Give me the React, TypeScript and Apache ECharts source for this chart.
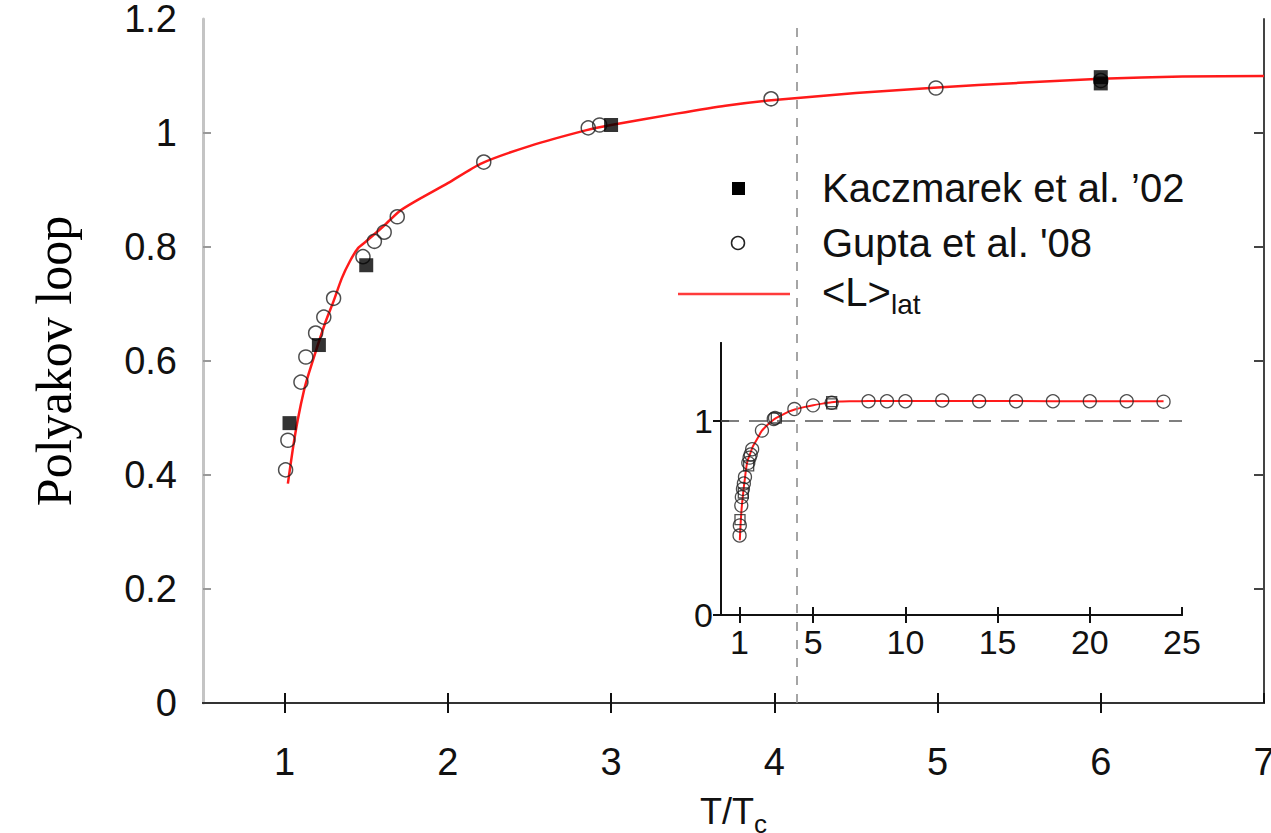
import React, { useEffect, useRef } from "react";
import * as echarts from "echarts";

// Kaczmarek et al. '02 (filled squares)
const kaczX = [1.03, 1.21, 1.5, 3.0, 6.0, 6.0];
const kaczY = [0.491, 0.628, 0.768, 1.014, 1.087, 1.098];

// Gupta et al. '08 (open circles), range shown in the main panel
const guptaX = [1.006, 1.02, 1.1, 1.13, 1.19, 1.24, 1.3, 1.48, 1.55, 1.61, 1.69, 2.22, 2.86, 2.93, 3.98, 4.99, 6.0];
const guptaY = [0.409, 0.461, 0.563, 0.607, 0.649, 0.677, 0.71, 0.783, 0.81, 0.826, 0.853, 0.949, 1.009, 1.014, 1.06, 1.079, 1.092];

// Gupta et al. '08, high-temperature points (inset only)
const guptaHighX = [8, 9, 10, 12, 14, 16, 18, 20, 22, 24];
const guptaHighY = [1.1, 1.1, 1.1, 1.104, 1.1, 1.1, 1.1, 1.1, 1.1, 1.098];

// <L>_lat curve
const curveX = [1.02, 1.05, 1.08, 1.12, 1.15, 1.2, 1.25, 1.3, 1.35, 1.4, 1.45, 1.5, 1.6, 1.7, 1.8, 2.0, 2.2, 2.5, 2.85, 3.0, 3.4, 3.7, 4.0, 4.5, 5.0, 5.5, 6.0, 6.5, 7.0];
const curveY = [0.385, 0.445, 0.496, 0.55, 0.58, 0.625, 0.668, 0.705, 0.745, 0.775, 0.798, 0.81, 0.835, 0.862, 0.88, 0.912, 0.946, 0.977, 1.005, 1.014, 1.034, 1.048, 1.058, 1.07, 1.08, 1.088, 1.095, 1.099, 1.1];
const curveTailX = [8, 10, 12, 16, 20, 24];
const curveTailY = [1.101, 1.102, 1.102, 1.101, 1.1, 1.1];

const mainXTicks = [1, 2, 3, 4, 5, 6, 7];
const mainYTicks = [0, 0.2, 0.4, 0.6, 0.8, 1, 1.2];
const insetXTicks = [1, 5, 10, 15, 20, 25];
const insetYTicks = [0, 1];
const tcLineX = 4.14;
const insetRefY = 1;

const zip = (xs: number[], ys: number[]) => xs.map((x, i) => [x, ys[i]]);

export default function App() {
  const ref = useRef<HTMLDivElement>(null);
  useEffect(() => {
    document.body.style.margin = "0";
    const chart = echarts.init(ref.current!, null, { renderer: "svg" });
    const sans = "Liberation Sans";
    const blank = { show: false };
    const option: any = {
      animation: false,
      backgroundColor: "#fff",
      grid: [
        { left: 203, top: 19, width: 1061, height: 684, outerBoundsMode: "none", containLabel: false },
        { left: 721, top: 343, width: 461, height: 272, outerBoundsMode: "none", containLabel: false },
      ],
      xAxis: [
        {
          gridIndex: 0, type: "value", min: 0.5, max: 7, position: "bottom",
          axisLine: { lineStyle: { color: "#111", width: 2 } },
          axisTick: { inside: true, length: 10, customValues: mainXTicks, lineStyle: { color: "#111", width: 2 } },
          axisLabel: { customValues: mainXTicks, fontFamily: sans, fontSize: 38, color: "#111", margin: 40 },
          splitLine: blank,
          name: "{a|T/T}{b|c}", nameLocation: "middle", nameGap: 82,
          nameTextStyle: {
            rich: {
              a: { fontFamily: sans, fontSize: 36, color: "#111" },
              b: { fontFamily: sans, fontSize: 26, color: "#111", padding: [26, 0, 0, 0] },
            },
          },
        },
        {
          gridIndex: 0, type: "value", min: 0.5, max: 7, position: "top",
          axisLine: { lineStyle: { color: "#333", width: 2 } },
          axisTick: { inside: true, length: 10, customValues: mainXTicks.slice(0, 6), lineStyle: { color: "#111", width: 2 } },
          axisLabel: blank, splitLine: blank,
        },
        {
          gridIndex: 1, type: "value", min: 0, max: 25, position: "bottom",
          axisLine: { lineStyle: { color: "#111", width: 2 } },
          axisTick: { inside: true, length: 8, customValues: insetXTicks, lineStyle: { color: "#111", width: 2 } },
          axisLabel: { customValues: insetXTicks, fontFamily: sans, fontSize: 34, color: "#111", margin: 10 },
          splitLine: blank,
        },
        {
          gridIndex: 1, type: "value", min: 0, max: 25, position: "top",
          axisLine: { lineStyle: { color: "#111", width: 2 } },
          axisTick: { inside: true, length: 8, customValues: insetXTicks.slice(0, 5), lineStyle: { color: "#111", width: 2 } },
          axisLabel: blank, splitLine: blank,
        },
      ],
      yAxis: [
        {
          gridIndex: 0, type: "value", min: 0, max: 1.2, position: "left",
          axisLine: { show: true, lineStyle: { color: "#c4c4c4", width: 3 } },
          axisTick: { show: true, inside: true, length: 8, customValues: [0.2, 0.4, 0.6, 0.8, 1.0], lineStyle: { color: "#999", width: 2 } },
          axisLabel: { customValues: mainYTicks, fontFamily: sans, fontSize: 38, color: "#111", margin: 26 },
          splitLine: blank,
          name: "Polyakov loop", nameLocation: "middle", nameGap: 124,
          nameTextStyle: { fontFamily: "Liberation Serif", fontSize: 50, color: "#000" },
        },
        {
          gridIndex: 0, type: "value", min: 0, max: 1.2, position: "right",
          axisLine: { show: true, lineStyle: { color: "#444", width: 2 } },
          axisTick: { show: true, inside: true, length: 10, customValues: [0.2, 0.4, 0.6, 0.8, 1.0], lineStyle: { color: "#444", width: 2 } },
          axisLabel: blank, splitLine: blank,
        },
        {
          gridIndex: 1, type: "value", min: 0, max: 1.4, position: "left",
          axisLine: { show: true, lineStyle: { color: "#111", width: 2 } },
          axisTick: { show: true, inside: true, length: 8, customValues: insetYTicks, lineStyle: { color: "#111", width: 2 } },
          axisLabel: { customValues: insetYTicks, fontFamily: sans, fontSize: 34, color: "#111", margin: 8 },
          splitLine: blank,
        },
        {
          gridIndex: 1, type: "value", min: 0, max: 1.4, position: "right",
          axisLine: { show: true, lineStyle: { color: "#111", width: 2 } },
          axisTick: { show: true, inside: true, length: 8, customValues: insetYTicks, lineStyle: { color: "#111", width: 2 } },
          axisLabel: blank, splitLine: blank,
        },
      ],
      series: [
        {
          type: "line", xAxisIndex: 0, yAxisIndex: 0, data: zip(curveX, curveY),
          showSymbol: false, smooth: 0.2, lineStyle: { color: "#ff1a1a", width: 2.5 },
          markLine: {
            silent: true, symbol: "none", label: { show: false },
            lineStyle: { color: "#888", type: [9, 9], width: 1.5 },
            data: [{ xAxis: tcLineX }],
          },
          z: 3,
        },
        {
          type: "scatter", xAxisIndex: 0, yAxisIndex: 0, data: zip(guptaX, guptaY),
          symbol: "circle", symbolSize: 14,
          itemStyle: { color: "rgba(0,0,0,0)", borderColor: "#222", borderWidth: 1.5 },
          z: 4,
        },
        {
          type: "scatter", xAxisIndex: 0, yAxisIndex: 0, data: zip(kaczX, kaczY),
          symbol: "rect", symbolSize: 14, itemStyle: { color: "#000" }, z: 5,
        },
        {
          type: "line", xAxisIndex: 2, yAxisIndex: 2,
          data: zip(curveX, curveY).concat(zip(curveTailX, curveTailY)),
          showSymbol: false, smooth: 0.2, lineStyle: { color: "#ff1a1a", width: 2 },
          markLine: {
            silent: true, symbol: "none", label: { show: false },
            lineStyle: { color: "#555", type: [18, 10], width: 1.5 },
            data: [{ yAxis: insetRefY }],
          },
          z: 3,
        },
        {
          type: "scatter", xAxisIndex: 2, yAxisIndex: 2,
          data: zip(guptaX, guptaY).concat(zip(guptaHighX, guptaHighY)),
          symbol: "circle", symbolSize: 13,
          itemStyle: { color: "rgba(0,0,0,0)", borderColor: "#222", borderWidth: 1.3 },
          z: 4,
        },
        {
          type: "scatter", xAxisIndex: 2, yAxisIndex: 2, data: zip(kaczX, kaczY),
          symbol: "rect", symbolSize: 10,
          itemStyle: { color: "rgba(0,0,0,0)", borderColor: "#222", borderWidth: 1.3 }, z: 5,
        },
      ],
      graphic: [
        { type: "rect", shape: { x: 732, y: 182, width: 13, height: 13 }, style: { fill: "#000" }, z: 10 },
        { type: "circle", shape: { cx: 738, cy: 243, r: 6.5 }, style: { fill: "none", stroke: "#222", lineWidth: 1.5 }, z: 10 },
        { type: "line", shape: { x1: 678, y1: 294, x2: 790, y2: 294 }, style: { stroke: "#ff3b3b", lineWidth: 2.5 }, z: 10 },
        {
          type: "text", x: 822, y: 188, z: 10,
          style: { text: "Kaczmarek et al. \u201902", fontFamily: sans, fontSize: 40, fill: "#111", verticalAlign: "middle" },
        },
        {
          type: "text", x: 822, y: 243, z: 10,
          style: { text: "Gupta et al. '08", fontFamily: sans, fontSize: 40, fill: "#111", verticalAlign: "middle" },
        },
        {
          type: "text", x: 822, y: 292, z: 10,
          style: {
            text: "{a|<L>}{b|lat}", verticalAlign: "middle",
            rich: {
              a: { fontFamily: sans, fontSize: 40, fill: "#111" },
              b: { fontFamily: sans, fontSize: 28, fill: "#111", padding: [24, 0, 0, 0] },
            },
          },
        },
      ],
    };
    chart.setOption(option);
    return () => chart.dispose();
  }, []);
  return <div ref={ref} style={{ width: 1271, height: 833 }} />;
}
